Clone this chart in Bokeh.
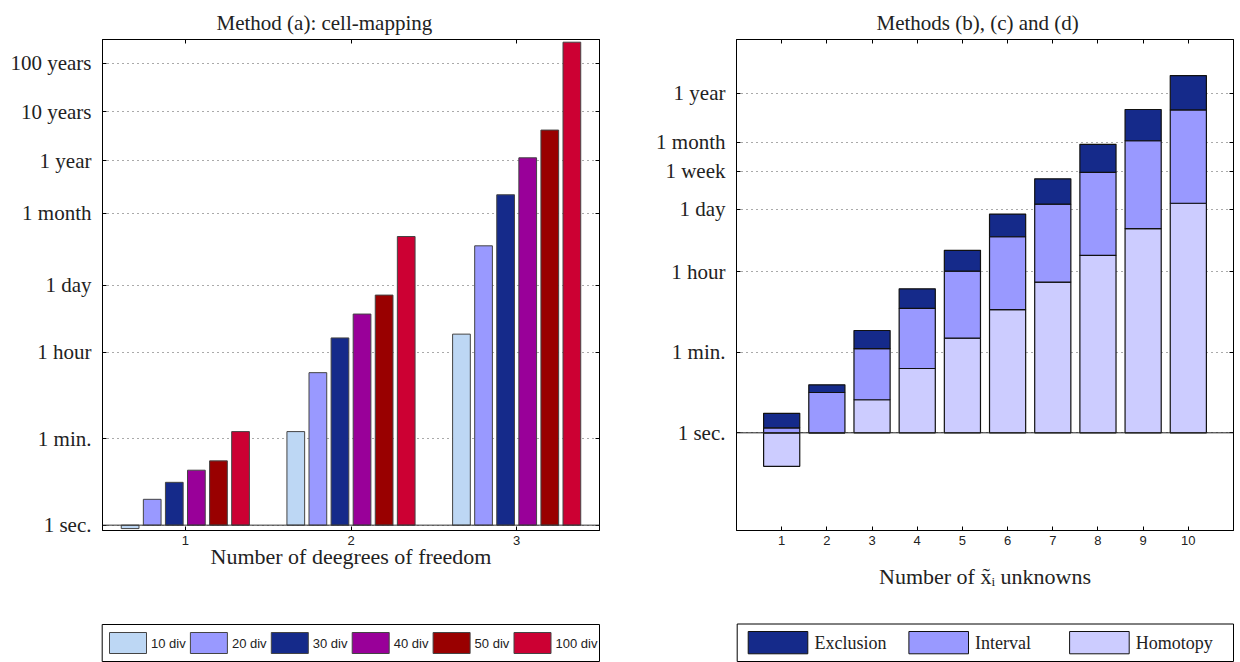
import numpy as np
from bokeh.plotting import figure
from bokeh.models import (ColumnDataSource, FixedTicker, Range1d, Span,
                          LinearAxis, LogAxis, CustomJSTickFormatter)
from bokeh.layouts import row, column
from bokeh.core.properties import value
from bokeh.embed import file_html
from bokeh.resources import INLINE

SERIF = "Liberation Serif"
SANS = "Liberation Sans"
TXT = "#222222"

# ---------------- Left panel: Method (a) cell-mapping (times in seconds) ----------------
dof = [1, 2, 3]
div_labels = ["10 div", "20 div", "30 div", "40 div", "50 div", "100 div"]
div_colors = ["#bdd7f4", "#9999ff", "#152a8a", "#990099", "#990000", "#cc0033"]
secs_10div = [0.85, 84, 8500]
secs_20div = [3.4, 1370, 557000]
secs_30div = [7.6, 7100, 6.25e6]
secs_40div = [13.5, 22000, 3.6e7]
secs_50div = [21, 54000, 1.34e8]
secs_100div = [84, 865000, 8.6e9]
left_ticks = [1, 60, 3600, 86400, 2592000, 31536000, 315360000, 3153600000]
left_tick_labels = ["1 sec.", "1 min.", "1 hour", "1 day", "1 month", "1 year", "10 years", "100 years"]

# ---------------- Right panel: Methods (b), (c), (d) (stacked, in decades of seconds) ----------------
unknowns = [1, 2, 3, 4, 5, 6, 7, 8, 9, 10]
homotopy = [-0.74, 0.0, 0.73, 1.42, 2.09, 2.72, 3.33, 3.92, 4.51, 5.07]
interval = [0.11, 0.89, 1.13, 1.33, 1.48, 1.61, 1.72, 1.83, 1.94, 2.06]
exclusion = [0.32, 0.17, 0.40, 0.43, 0.46, 0.50, 0.56, 0.62, 0.69, 0.76]
method_labels = ["Exclusion", "Interval", "Homotopy"]
method_colors = ["#152a8a", "#9999ff", "#ccccff"]
right_ticks = [1, 60, 3600, 86400, 604800, 2592000, 31536000]
right_tick_labels = ["1 sec.", "1 min.", "1 hour", "1 day", "1 week", "1 month", "1 year"]

W, H = 1240, 662
MAIN_H = 621
LEG_H = H - MAIN_H


def base_fig(x_range, y_range, mbl, mbr, mbt, mbb, title, title_offset):
    p = figure(width=620, height=MAIN_H, y_axis_type="log", x_range=x_range, y_range=y_range,
               output_backend="svg", toolbar_location=None,
               min_border_left=mbl, min_border_right=mbr, min_border_top=mbt, min_border_bottom=mbb)
    p.title.text = title
    p.title.text_font = SERIF
    p.title.text_font_size = "21px"
    p.title.text_font_style = "normal"
    p.title.text_color = TXT
    p.title.align = "left"
    p.title.offset = title_offset
    p.title.standoff = 10
    p.outline_line_color = "black"
    p.outline_line_width = 1
    p.background_fill_color = "white"
    p.border_fill_color = "white"
    p.xgrid.visible = False
    p.ygrid.grid_line_color = "#555555"
    p.ygrid.grid_line_dash = "1 4"
    p.ygrid.grid_line_width = 1
    return p


def style_axes(p, xticks, yticks, ylabels, xlabel, xlabel_standoff):
    xa = p.xaxis[0]
    xa.ticker = FixedTicker(ticks=xticks)
    xa.major_label_text_font = SANS
    xa.major_label_text_font_size = "13px"
    xa.major_label_text_color = TXT
    xa.major_label_standoff = 5
    xa.major_tick_in = 4
    xa.major_tick_out = 0
    xa.minor_tick_line_color = None
    xa.axis_line_color = "black"
    xa.axis_label = xlabel
    xa.axis_label_text_font = SERIF
    xa.axis_label_text_font_size = "22px"
    xa.axis_label_text_font_style = "normal"
    xa.axis_label_text_color = TXT
    xa.axis_label_standoff = xlabel_standoff

    ya = p.yaxis[0]
    ya.ticker = FixedTicker(ticks=yticks)
    ya.major_label_overrides = {t: l for t, l in zip(yticks, ylabels)}
    ya.major_label_text_font = SERIF
    ya.major_label_text_font_size = "21px"
    ya.major_label_text_color = TXT
    ya.major_label_standoff = 11
    ya.major_tick_in = 4
    ya.major_tick_out = 0
    ya.minor_tick_line_color = None
    ya.axis_line_color = "black"
    p.ygrid.ticker = FixedTicker(ticks=yticks)

    blank = CustomJSTickFormatter(code="return ''")
    top = LinearAxis(ticker=FixedTicker(ticks=xticks), formatter=blank,
                     major_label_text_font_size="0px", major_label_standoff=0,
                     major_tick_in=4, major_tick_out=0, minor_tick_line_color=None,
                     axis_line_color="black")
    right = LogAxis(ticker=FixedTicker(ticks=yticks), formatter=blank,
                    major_label_text_font_size="0px", major_label_standoff=0,
                    major_tick_in=4, major_tick_out=0, minor_tick_line_color=None,
                    axis_line_color="black")
    p.add_layout(top, "above")
    p.add_layout(right, "right")


# ---------------- Left figure ----------------
p1 = base_fig(Range1d(0.5, 3.5), Range1d(10 ** -0.11, 10 ** 9.99), 102, 21, 39, MAIN_H - 531,
              "Method (a): cell-mapping", 114)
series_left = [secs_10div, secs_20div, secs_30div, secs_40div, secs_50div, secs_100div]
n_ser = len(series_left)
pitch = 0.1333
bw = 0.107
for k, (vals, col) in enumerate(zip(series_left, div_colors)):
    xs = [g + (k - (n_ser - 1) / 2) * pitch for g in dof]
    src = ColumnDataSource(dict(x=xs, top=vals, bottom=[1] * len(vals)))
    p1.vbar(x="x", top="top", bottom="bottom", width=bw, source=src,
            fill_color=col, line_color="#444444", line_width=1)
p1.add_layout(Span(location=1, dimension="width", line_color="#333333", line_width=1))
style_axes(p1, dof, left_ticks, left_tick_labels, "Number of deegrees of freedom", -4)

# ---------------- Right figure ----------------
p2 = base_fig(Range1d(0, 11), Range1d(10 ** -2.157, 10 ** 8.686), 116, 7, 37, MAIN_H - 530,
              "Methods (b), (c) and (d)", 140)
n = len(unknowns)
pos_base = np.zeros(n)
neg_base = np.zeros(n)
segs = {}
for name, vals in (("Homotopy", homotopy), ("Interval", interval), ("Exclusion", exclusion)):
    v = np.array(vals, dtype=float)
    bottom = np.where(v >= 0, pos_base, neg_base)
    topv = bottom + v
    pos_base = np.where(v >= 0, topv, pos_base)
    neg_base = np.where(v < 0, topv, neg_base)
    segs[name] = (10 ** bottom, 10 ** topv)

for name, col in (("Homotopy", method_colors[2]), ("Interval", method_colors[1]), ("Exclusion", method_colors[0])):
    b, t = segs[name]
    src = ColumnDataSource(dict(x=unknowns, bottom=list(b), top=list(t)))
    p2.vbar(x="x", top="top", bottom="bottom", width=0.8, source=src,
            fill_color=col, line_color="#111111", line_width=1.2)
p2.add_layout(Span(location=1, dimension="width", line_color="#222222", line_width=1))
style_axes(p2, unknowns, right_ticks, right_tick_labels, "Number of x\u0303\u1d62 unknowns", 16)

# ---------------- Legend strip (pixel-mapped figure below both panels) ----------------
lg = figure(width=W, height=LEG_H, x_range=Range1d(0, W), y_range=Range1d(H, MAIN_H),
            output_backend="svg", toolbar_location=None,
            x_axis_location=None, y_axis_location=None,
            min_border_left=0, min_border_right=0, min_border_top=0, min_border_bottom=0)
lg.grid.visible = False
lg.outline_line_color = None
lg.background_fill_color = "white"
lg.border_fill_color = "white"


def draw_legend(fig, box, x0, pitch_px, sw_w, sw_top, sw_bot, standoff, labels, colors,
                line_color, font, size):
    fig.quad(left=[box[0]], right=[box[1]], top=[box[2]], bottom=[box[3]],
             fill_color="white", line_color="black", line_width=1)
    n_it = len(labels)
    lefts = [x0 + i * pitch_px for i in range(n_it)]
    fig.quad(left=lefts, right=[l + sw_w for l in lefts], top=[sw_top] * n_it,
             bottom=[sw_bot] * n_it, fill_color=colors, line_color=line_color, line_width=1)
    fig.text(x=[l + sw_w + standoff for l in lefts], y=[(sw_top + sw_bot) / 2] * n_it,
             text=labels, text_font=value(font), text_font_size=size,
             text_align="left", text_baseline="middle", text_color=TXT)


draw_legend(lg, (101.7, 599, 624, 661), 109, 80.9, 37, 632, 653, 4.5,
            div_labels, div_colors, "#444444", SANS, "13px")
draw_legend(lg, (736.7, 1233, 623.5, 661), 747.7, 160.7, 59.6, 631, 653.3, 6.6,
            method_labels, method_colors, "#111111", SERIF, "18px")

layout = column(row(p1, p2), lg)
open("out.html", "w").write(file_html(layout, INLINE))
